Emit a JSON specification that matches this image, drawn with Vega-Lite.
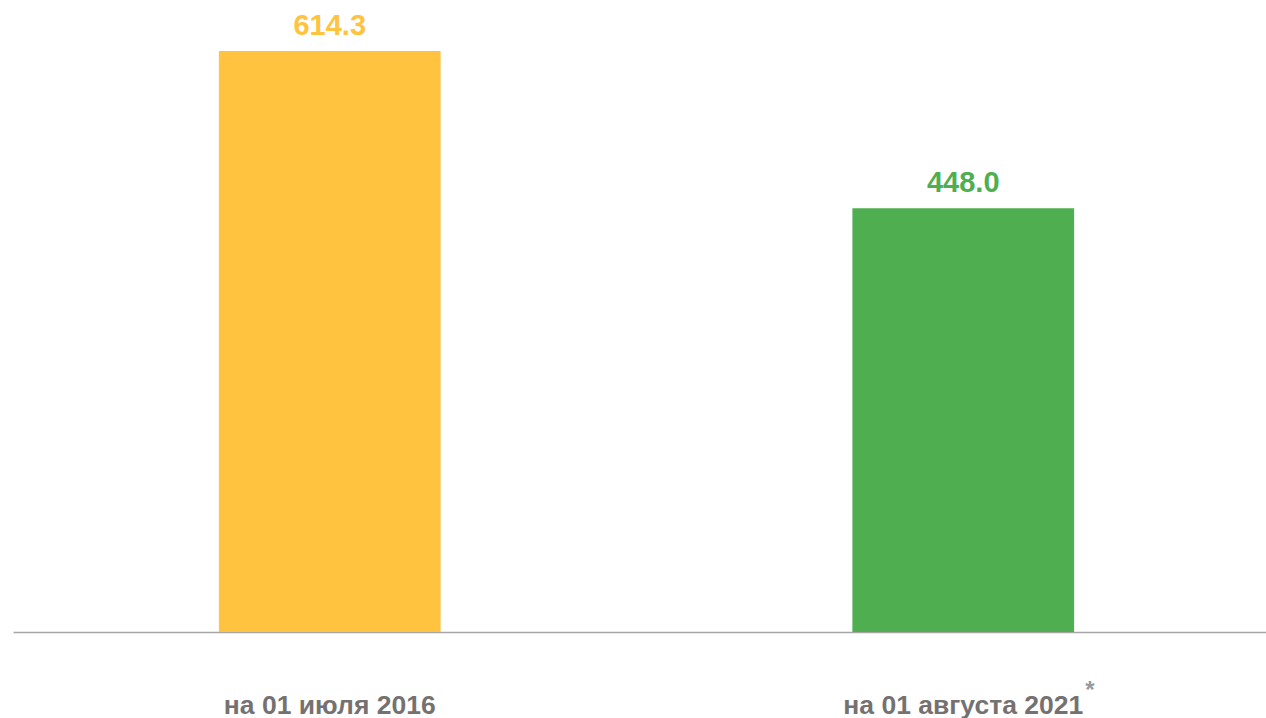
{
  "$schema": "https://vega.github.io/schema/vega-lite/v6.json",
  "autosize": "none",
  "width": 1267,
  "height": 581,
  "padding": {"left": 13, "top": 51, "right": 0, "bottom": 86},
  "background": "white",
  "config": {"view": {"stroke": null}},
  "data": {"values": [
    {"period": "на 01 июля 2016", "value": 614.3, "color": "#FFC340", "note": ""},
    {"period": "на 01 августа 2021", "value": 448.0, "color": "#4FAF50", "note": "*"}
  ]},
  "encoding": {
    "x": {"field": "period", "type": "nominal", "sort": null,
      "scale": {"paddingInner": 0.65, "paddingOuter": 0.325},
      "axis": {"title": null, "ticks": false, "domainColor": "#A6A6A6", "domainWidth": 1.5,
        "labelFont": "Liberation Sans", "labelFontSize": 26.5, "labelFontWeight": "bold", "labelLimit": 0,
        "labelColor": "#767171", "labelAngle": 0, "labelBaseline": "alphabetic", "labelPadding": 81}}
  },
  "layer": [
    {"mark": {"type": "bar"},
      "encoding": {
        "y": {"field": "value", "type": "quantitative", "scale": {"domain": [0, 614.3], "nice": false}, "axis": null},
        "color": {"field": "color", "type": "nominal", "scale": null}
      }},
    {"mark": {"type": "text", "baseline": "alphabetic", "dy": -16, "font": "Liberation Sans", "fontSize": 29, "fontWeight": "bold"},
      "encoding": {
        "y": {"field": "value", "type": "quantitative"},
        "text": {"field": "value", "type": "quantitative", "format": ".1f"},
        "color": {"field": "color", "type": "nominal", "scale": null}
      }},
    {"mark": {"type": "text", "baseline": "alphabetic", "align": "left", "dx": 122, "dy": 66, "font": "Liberation Sans", "fontSize": 24, "fontWeight": "bold", "color": "#999999"},
      "encoding": {
        "y": {"datum": 0, "type": "quantitative"},
        "text": {"field": "note"}
      }}
  ]
}
